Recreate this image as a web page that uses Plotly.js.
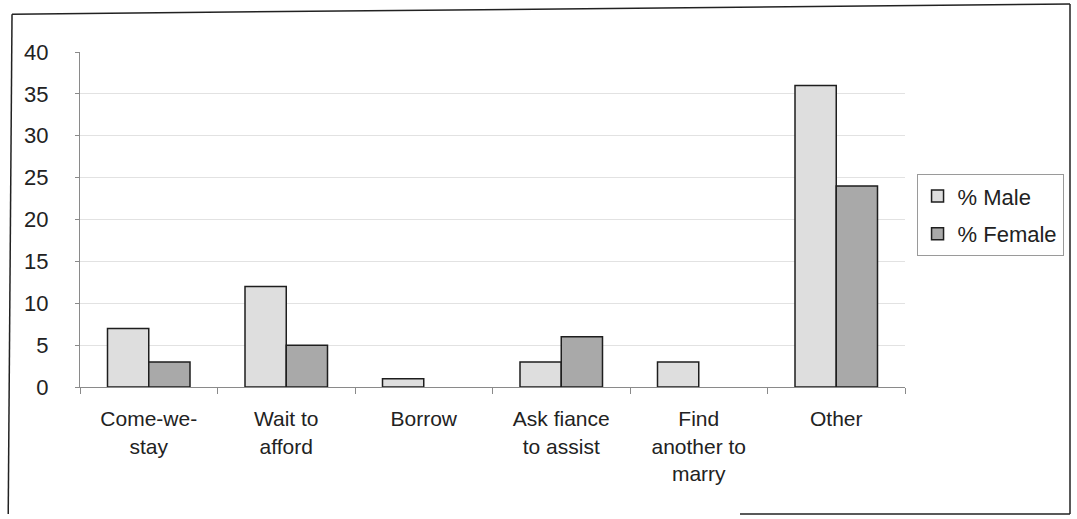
<!DOCTYPE html>
<html>
<head>
<meta charset="utf-8">
<script src="https://cdn.plot.ly/plotly-3.0.1.min.js"></script>
<style>
  html, body { margin: 0; padding: 0; background: #fff; }
  #chart { width: 1077px; height: 519px; }
</style>
</head>
<body>
<div id="chart"></div>
<script>
// Responses to being unable to afford a wedding, by sex (%)
const categories = [
  "Come-we-<br>stay",
  "Wait to<br>afford",
  "Borrow",
  "Ask fiance<br>to assist",
  "Find<br>another to<br>marry",
  "Other"
];
const maleValues = [7, 12, 1, 3, 3, 36];
const femaleValues = [3, 5, 0, 6, 0, 24];
const yTicks = [0, 5, 10, 15, 20, 25, 30, 35, 40];

const FONT = "Liberation Sans, Arial, sans-serif";

// zero-height bars get no outline so they stay invisible
const outlineWidths = vals => vals.map(v => (v > 0 ? 1.5 : 0));

const traces = [
  {
    type: "bar",
    name: "% Male",
    legendgroup: "male",
    x: categories,
    y: maleValues,
    marker: { color: "#dedede", line: { color: "#1e1e1e", width: outlineWidths(maleValues) } },
    hoverinfo: "x+y"
  },
  {
    type: "bar",
    name: "% Female",
    legendgroup: "female",
    x: categories,
    y: femaleValues,
    marker: { color: "#a9a9a9", line: { color: "#1e1e1e", width: outlineWidths(femaleValues) } },
    hoverinfo: "x+y"
  }
];

const frameLine = { color: "#222", width: 1.5 };

const layout = {
  width: 1077,
  height: 519,
  margin: { l: 80, r: 172, t: 52, b: 132 },
  paper_bgcolor: "#ffffff",
  plot_bgcolor: "#ffffff",
  font: { family: FONT, size: 21, color: "#222" },
  barmode: "group",
  bargap: 0.4,
  bargroupgap: 0,
  showlegend: true,
  legend: {
    x: 1.014, xanchor: "left",
    y: 0.635, yanchor: "top",
    bordercolor: "#9a9a9a",
    borderwidth: 1,
    bgcolor: "#ffffff",
    tracegroupgap: 6,
    itemwidth: 30,
    font: { family: FONT, size: 22, color: "#222" }
  },
  xaxis: {
    type: "category",
    showgrid: false,
    showline: true,
    linecolor: "#8a8a8a",
    linewidth: 1,
    ticks: "outside",
    tickson: "boundaries",
    ticklen: 6,
    tickcolor: "#8a8a8a",
    ticklabelstandoff: 13,
    tickfont: { family: FONT, size: 21, color: "#222" },
    zeroline: false
  },
  yaxis: {
    range: [0, 40],
    tickvals: yTicks,
    ticktext: yTicks.map(String),
    showgrid: true,
    gridcolor: "#e2e2e2",
    gridwidth: 1,
    showline: true,
    linecolor: "#8a8a8a",
    linewidth: 1,
    ticks: "outside",
    ticklen: 4,
    tickcolor: "#8a8a8a",
    ticklabelstandoff: 22,
    tickfont: { family: FONT, size: 22, color: "#222" },
    zeroline: false
  },
  shapes: [
    // outer frame around the chart
    { type: "line", xref: "paper", yref: "paper", x0: -0.0824, y0: 1.113, x1: 1.2, y1: 1.143, line: frameLine },
    { type: "line", xref: "paper", yref: "paper", x0: -0.0824, y0: 1.113, x1: -0.087, y1: -0.379, line: frameLine },
    { type: "line", xref: "paper", yref: "paper", x0: 1.2, y0: 1.143, x1: 1.2, y1: -0.379, line: frameLine },
    { type: "line", xref: "paper", yref: "paper", x0: 0.8, y0: -0.379, x1: 1.2, y1: -0.379, line: frameLine }
  ]
};

Plotly.newPlot("chart", traces, layout, { displayModeBar: false, staticPlot: true });
</script>
</body>
</html>
